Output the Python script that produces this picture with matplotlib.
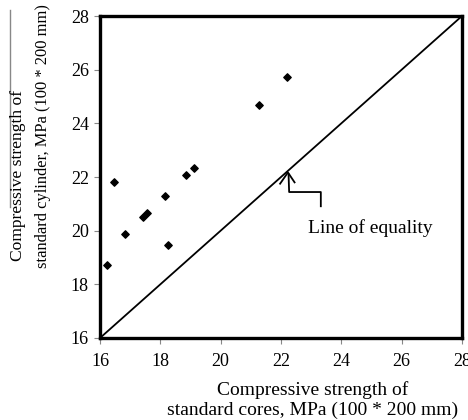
import matplotlib
matplotlib.use("Agg")
import matplotlib.pyplot as plt
from matplotlib.lines import Line2D

plt.rcParams['font.family'] = ['Liberation Serif', 'DejaVu Serif']

cores = [16.22, 16.46, 16.82, 17.42, 17.56, 18.15, 18.27, 18.86, 19.11, 21.28, 22.21]
cylinder = [18.71, 21.83, 19.88, 20.51, 20.64, 21.30, 19.48, 22.09, 22.33, 24.68, 25.71]
equality = [16, 28]
ticks = [16, 18, 20, 22, 24, 26, 28]

fig = plt.figure(figsize=(4.68, 4.2), dpi=100)
ax = fig.add_axes([100/468, 1-338/420, 362/468, 322/420])

ax.plot(equality, equality, color='black', lw=1.3)
ax.scatter(cores, cylinder, marker='D', s=14, color='black', zorder=3)

ax.set_xlim(16, 28)
ax.set_ylim(16, 28)
ax.set_xticks(ticks)
ax.set_yticks(ticks)
ax.tick_params(direction='out', length=4, width=0.8, color='#888888', labelsize=13)
ax.tick_params(axis='x', pad=7)
ax.tick_params(axis='y', pad=4)
for s in ax.spines.values():
    s.set_linewidth(2.4)
    s.set_color('black')

# arrow annotation
ax.plot([23.32, 23.32, 22.27, 22.25], [20.91, 21.44, 21.44, 22.1], color='black', lw=1.3)
ax.plot([21.97, 22.23, 22.45], [21.75, 22.17, 21.8], color='black', lw=1.3)
ax.text(24.97, 20.1, 'Line of equality', fontsize=14, ha='center', va='center')

fig.text(313/468, 1-400/420, 'Compressive strength of\nstandard cores, MPa (100 * 200 mm)',
         fontsize=14, ha='center', va='center', linespacing=1.2)
fig.text(18/468, 1-175/420, 'Compressive strength of',
         fontsize=12.6, ha='center', va='center', rotation=90)
fig.text(43/468, 1-136/420, 'standard cylinder, MPa (100 * 200 mm)',
         fontsize=11.9, ha='center', va='center', rotation=90)

fig.add_artist(Line2D([9.5/468, 9.5/468], [1-10/420, 1-207/420], color='#888888', lw=1.0))

fig.savefig('out.png', dpi=100)
